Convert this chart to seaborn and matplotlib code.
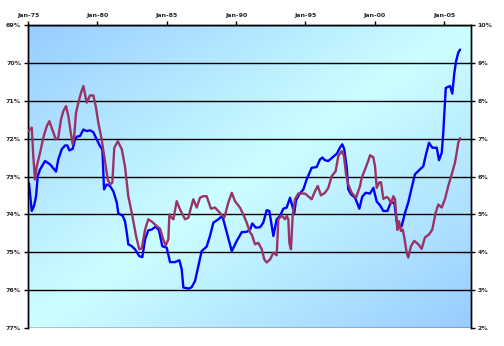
import numpy as np
import pandas as pd
import matplotlib
matplotlib.use("Agg")
import matplotlib.pyplot as plt
import seaborn as sns

sns.set_theme(style="white")
plt.rcParams['font.family'] = ['DejaVu Sans']

# ---- data (decimal years, values in %) ----
blue_year = [1975.07, 1975.27, 1975.43, 1975.58, 1975.70, 1975.87, 1976.23, 1976.59, 1977.02, 1977.18,
             1977.43, 1977.67, 1977.83, 1977.98, 1978.22, 1978.39, 1978.51, 1978.75, 1978.99, 1979.23,
             1979.47, 1979.71, 1979.95, 1980.19, 1980.36, 1980.48, 1980.67, 1980.91, 1981.15, 1981.40,
             1981.51, 1981.83, 1981.99, 1982.12, 1982.23, 1982.48, 1982.71, 1983.02, 1983.24, 1983.44,
             1983.67, 1983.92, 1984.21, 1984.44, 1984.68, 1985.00, 1985.24, 1985.60, 1985.91, 1986.08,
             1986.20, 1986.61, 1986.80, 1987.04, 1987.28, 1987.52, 1987.88, 1988.12, 1988.36, 1988.72,
             1989.01, 1989.33, 1989.69, 1990.05, 1990.41, 1990.77, 1991.01, 1991.17, 1991.42, 1991.73,
             1991.96, 1992.21, 1992.40, 1992.69, 1992.93, 1993.17, 1993.41, 1993.65, 1993.89, 1994.08,
             1994.20, 1994.32, 1994.56, 1994.85, 1995.09, 1995.45, 1995.81, 1996.05, 1996.22, 1996.41,
             1996.65, 1996.94, 1997.26, 1997.49, 1997.66, 1997.80, 1997.98, 1998.09, 1998.29, 1998.58,
             1998.89, 1999.10, 1999.35, 1999.66, 1999.90, 2000.14, 2000.38, 2000.62, 2000.91, 2001.15,
             2001.41, 2001.58, 2001.70, 2001.94, 2002.18, 2002.42, 2002.66, 2002.90, 2003.26, 2003.50,
             2003.69, 2003.91, 2004.15, 2004.47, 2004.63, 2004.83, 2004.94, 2005.12, 2005.43, 2005.59,
             2005.74, 2005.86, 2006.02, 2006.15]
blue_value = [73.18, 73.91, 73.78, 73.52, 72.99, 72.81, 72.59, 72.68, 72.87, 72.55,
              72.28, 72.18, 72.18, 72.31, 72.27, 72.02, 71.95, 71.93, 71.76, 71.80,
              71.78, 71.83, 72.02, 72.20, 72.28, 73.34, 73.21, 73.25, 73.39, 73.69,
              73.97, 74.04, 74.18, 74.48, 74.79, 74.84, 74.92, 75.10, 75.13, 74.66,
              74.42, 74.40, 74.32, 74.42, 74.84, 74.88, 75.26, 75.26, 75.21, 75.45,
              75.93, 75.96, 75.92, 75.76, 75.36, 74.97, 74.85, 74.57, 74.22, 74.13,
              74.04, 74.48, 74.97, 74.70, 74.47, 74.46, 74.40, 74.24, 74.35, 74.34,
              74.22, 73.89, 73.91, 74.57, 74.13, 74.04, 73.85, 73.82, 73.56, 73.80,
              73.96, 73.63, 73.47, 73.34, 73.08, 72.77, 72.75, 72.55, 72.50, 72.57,
              72.59, 72.50, 72.40, 72.24, 72.15, 72.28, 72.77, 73.34, 73.47, 73.56,
              73.85, 73.53, 73.43, 73.45, 73.30, 73.66, 73.76, 73.91, 73.91, 73.69,
              73.69, 74.18, 74.35, 74.31, 73.96, 73.68, 73.30, 72.94, 72.81, 72.73,
              72.42, 72.11, 72.24, 72.24, 72.57, 72.37, 71.84, 70.66, 70.61, 70.81,
              70.26, 69.96, 69.73, 69.65]

red_year = [1975.02, 1975.27, 1975.38, 1975.50, 1975.63, 1975.87, 1976.10, 1976.35, 1976.54, 1976.75,
            1977.00, 1977.18, 1977.38, 1977.55, 1977.74, 1977.91, 1978.08, 1978.22, 1978.34, 1978.46,
            1978.63, 1978.82, 1978.99, 1979.23, 1979.47, 1979.71, 1979.88, 1980.07, 1980.31, 1980.55,
            1980.75, 1980.91, 1981.08, 1981.22, 1981.47, 1981.76, 1981.99, 1982.23, 1982.48, 1982.79,
            1983.02, 1983.20, 1983.44, 1983.67, 1983.96, 1984.28, 1984.52, 1984.75, 1984.93, 1985.12,
            1985.19, 1985.36, 1985.48, 1985.72, 1985.96, 1986.32, 1986.56, 1986.75, 1986.92, 1987.16,
            1987.40, 1987.64, 1987.88, 1988.19, 1988.48, 1988.84, 1989.15, 1989.44, 1989.69, 1989.92,
            1990.28, 1990.52, 1990.77, 1991.01, 1991.13, 1991.37, 1991.60, 1991.85, 1992.04, 1992.21,
            1992.45, 1992.69, 1992.93, 1993.05, 1993.29, 1993.53, 1993.65, 1993.77, 1993.84, 1993.96,
            1994.08, 1994.25, 1994.49, 1994.97, 1995.45, 1995.69, 1995.89, 1996.12, 1996.41, 1996.65,
            1996.90, 1997.18, 1997.37, 1997.62, 1997.78, 1997.93, 1998.09, 1998.33, 1998.65, 1998.94,
            1999.06, 1999.30, 1999.53, 1999.66, 1999.89, 2000.02, 2000.14, 2000.31, 2000.45, 2000.62,
            2000.86, 2001.03, 2001.17, 2001.34, 2001.46, 2001.63, 2001.75, 2001.89, 2002.02, 2002.13,
            2002.30, 2002.42, 2002.61, 2002.85, 2003.14, 2003.38, 2003.62, 2003.91, 2004.15, 2004.39,
            2004.58, 2004.83, 2005.06, 2005.30, 2005.55, 2005.78, 2005.91, 2006.02, 2006.15]
red_value = [7.20, 7.29, 6.54, 5.92, 6.27, 6.63, 7.02, 7.33, 7.46, 7.24,
             6.98, 7.02, 7.51, 7.73, 7.86, 7.59, 7.16, 6.85, 7.11, 7.68,
             7.95, 8.21, 8.39, 7.95, 8.14, 8.14, 7.86, 7.42, 6.98, 6.41,
             5.92, 5.79, 5.84, 6.76, 6.93, 6.72, 6.27, 5.48, 5.04, 4.43,
             4.08, 4.10, 4.60, 4.87, 4.80, 4.69, 4.62, 4.34, 4.18, 4.34,
             5.00, 4.91, 4.87, 5.35, 5.13, 4.87, 4.91, 5.18, 5.40, 5.18,
             5.44, 5.48, 5.48, 5.15, 5.18, 5.04, 4.91, 5.31, 5.57, 5.35,
             5.18, 5.00, 4.78, 4.52, 4.47, 4.21, 4.25, 4.08, 3.81, 3.73,
             3.81, 3.99, 3.92, 4.87, 4.97, 4.87, 4.96, 4.87, 4.25, 4.08,
             4.96, 5.40, 5.55, 5.55, 5.40, 5.61, 5.75, 5.50, 5.57, 5.70,
             6.01, 6.14, 6.54, 6.67, 6.54, 6.06, 5.79, 5.57, 5.44, 5.75,
             5.97, 6.19, 6.41, 6.56, 6.51, 6.27, 5.70, 5.84, 5.85, 5.41,
             5.46, 5.41, 5.28, 5.48, 5.40, 4.59, 4.82, 4.56, 4.60, 4.39,
             3.99, 3.86, 4.16, 4.30, 4.21, 4.09, 4.39, 4.47, 4.60, 5.04,
             5.26, 5.18, 5.40, 5.75, 6.06, 6.36, 6.63, 6.89, 7.01]

x_tick_years = [1975, 1980, 1985, 1990, 1995, 2000, 2005]
x_tick_labels = ["Jan-75", "Jan-80", "Jan-85", "Jan-90", "Jan-95", "Jan-00", "Jan-05"]
left_ticks = [69, 70, 71, 72, 73, 74, 75, 76, 77]
right_ticks = [2, 3, 4, 5, 6, 7, 8, 9, 10]

blue_df = pd.DataFrame({"year": blue_year, "value": blue_value})
red_df = pd.DataFrame({"year": red_year, "value": red_value})

fig = plt.figure(figsize=(5.04, 3.46), dpi=100)
fig.patch.set_facecolor("white")
ax = fig.add_axes([0.0556, 0.052, 0.8784, 0.8757])

# gradient background (Excel-like diagonal)
n = 300
xs = np.linspace(0, 1, n)
ys = np.linspace(0, 1, n)
X, Y = np.meshgrid(xs, ys)  # Y=0 is top row (origin upper)
t = (X + Y) / 2.0
w = 1 - np.abs(2 * t - 1)
c_edge = np.array([0x99, 0xCC, 0xFF]) / 255.0
c_mid = np.array([0xCC, 0xFF, 0xFF]) / 255.0
img = c_edge[None, None, :] + (c_mid - c_edge)[None, None, :] * w[:, :, None]
ax.imshow(img, extent=[0, 1, 0, 1], transform=ax.transAxes, aspect="auto",
          origin="upper", zorder=0, interpolation="bilinear")

x_min, x_max = 1975.0, 2006.92

for yv in left_ticks:
    ax.axhline(yv, color="black", lw=1.0, zorder=1)

sns.lineplot(data=blue_df, x="year", y="value", ax=ax, color="#0000FF", lw=1.7,
             zorder=3, legend=False)
ax.set_xlim(x_min, x_max)
ax.set_ylim(77, 69)
ax.set_yticks(left_ticks)
ax.set_yticklabels([f"{v}%" for v in left_ticks])
ax.set_xlabel("")
ax.set_ylabel("")
ax.xaxis.tick_top()
ax.set_xticks(x_tick_years)
ax.set_xticklabels(x_tick_labels)
ax.grid(False)

ax2 = ax.twinx()
sns.lineplot(data=red_df, x="year", y="value", ax=ax2, color="#993366", lw=1.7,
             zorder=3, legend=False)
ax2.set_ylim(2, 10)
ax2.set_yticks(right_ticks)
ax2.set_yticklabels([f"{v}%" for v in right_ticks])
ax2.set_xlim(x_min, x_max)
ax2.set_ylabel("")
ax2.grid(False)

for a in (ax, ax2):
    for s in a.spines.values():
        s.set_color("black")
        s.set_linewidth(1.0)
    a.spines["bottom"].set_visible(False)
    a.tick_params(axis="both", which="major", labelsize=4.5, length=3, width=1,
                  color="black", direction="out", pad=2)
    for lbl in a.get_xticklabels() + a.get_yticklabels():
        lbl.set_fontweight("bold")

ax.tick_params(axis="x", top=True, bottom=False, labeltop=True, labelbottom=False)
ax2.tick_params(axis="x", top=False, bottom=False, labeltop=False, labelbottom=False)
ax.tick_params(axis="y", left=True, right=False)
ax2.tick_params(axis="y", right=True, left=False)

fig.savefig("out.png", dpi=100, facecolor="white")
